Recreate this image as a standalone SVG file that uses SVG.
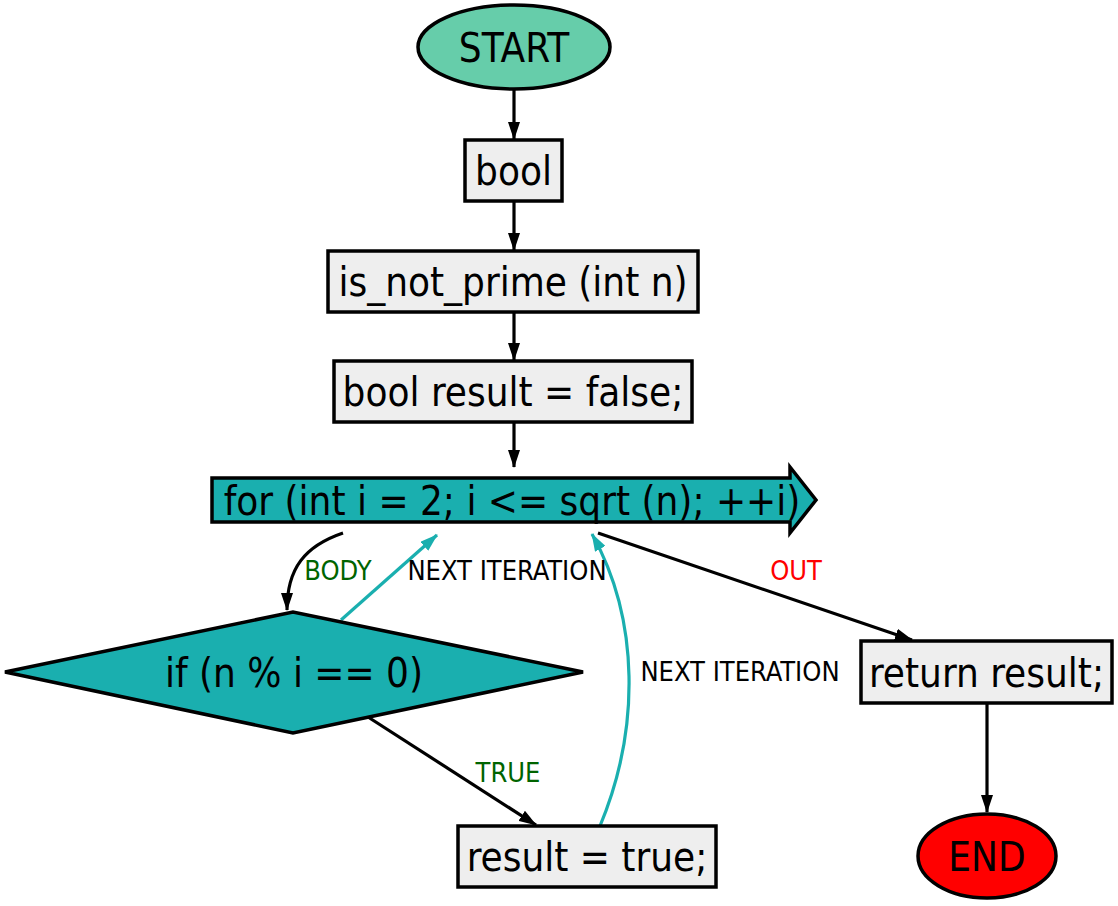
<svg xmlns="http://www.w3.org/2000/svg" width="1118" height="906" viewBox="0 0 1118 906">
  <defs>
    <style>
      .node { stroke: #000; stroke-width: 3.5; }
      .box { fill: #eeeeee; }
      .teal { fill: #1aafaf; }
      .txt { font-family: "DejaVu Sans Condensed", "DejaVu Sans", sans-serif; font-size: 40px; fill: #000; text-anchor: middle; }
      .lbl { font-family: "DejaVu Sans Condensed", "DejaVu Sans", sans-serif; font-size: 27px; text-anchor: middle; }
      .edge { fill: none; stroke: #000; stroke-width: 3.2; }
      .edge-loop { fill: none; stroke: #1aafaf; stroke-width: 3.2; }
    </style>
    <marker id="arrow" viewBox="0 0 18 12" refX="17" refY="6" markerWidth="18" markerHeight="12" markerUnits="userSpaceOnUse" orient="auto">
      <path d="M0,0 L18,6 L0,12 z" fill="#000"/>
    </marker>
    <marker id="arrow-loop" viewBox="0 0 18 12" refX="17" refY="6" markerWidth="18" markerHeight="12" markerUnits="userSpaceOnUse" orient="auto">
      <path d="M0,0 L18,6 L0,12 z" fill="#1aafaf"/>
    </marker>
  </defs>
  <rect width="1118" height="906" fill="#fff"/>

  <g id="connectors">
    <line class="edge" x1="514" y1="90" x2="514" y2="139" marker-end="url(#arrow)"/>
    <line class="edge" x1="514" y1="201" x2="514" y2="250" marker-end="url(#arrow)"/>
    <line class="edge" x1="514" y1="312" x2="514" y2="360" marker-end="url(#arrow)"/>
    <line class="edge" x1="514" y1="422" x2="514" y2="467" marker-end="url(#arrow)"/>
    <path class="edge" d="M343,533 C305,546 287,568 287,610" marker-end="url(#arrow)"/>
    <line class="edge-loop" x1="341" y1="620" x2="437" y2="535" marker-end="url(#arrow-loop)"/>
    <line class="edge" x1="368" y1="717" x2="536" y2="825" marker-end="url(#arrow)"/>
    <path class="edge-loop" d="M600,826 C640,730 640,620 592,534" marker-end="url(#arrow-loop)"/>
    <line class="edge" x1="598" y1="533" x2="912" y2="640" marker-end="url(#arrow)"/>
    <line class="edge" x1="987" y1="703" x2="987" y2="812" marker-end="url(#arrow)"/>
    <text class="lbl" x="338" y="580" fill="#006400">BODY</text>
    <text class="lbl" x="507" y="580" fill="#000">NEXT ITERATION</text>
    <text class="lbl" x="508" y="782" fill="#006400">TRUE</text>
    <text class="lbl" x="740" y="681" fill="#000">NEXT ITERATION</text>
    <text class="lbl" x="796" y="580" fill="#ff0000">OUT</text>
  </g>

  <g id="start">
    <ellipse class="node" cx="514" cy="47" rx="96" ry="42" fill="#66cdaa"/>
    <text class="txt" x="514" y="62">START</text>
  </g>
  <g id="bool">
    <rect class="node box" x="465" y="140" width="97" height="61"/>
    <text class="txt" x="513.5" y="185">bool</text>
  </g>
  <g id="signature">
    <rect class="node box" x="328" y="251" width="370" height="61"/>
    <text class="txt" x="513" y="296">is_not_prime (int n)</text>
  </g>
  <g id="init">
    <rect class="node box" x="334" y="361" width="358" height="61"/>
    <text class="txt" x="513" y="406">bool result = false;</text>
  </g>
  <g id="loop">
    <path class="node teal" d="M212,478 L790,478 L790,467 L816,500 L790,533 L790,522 L212,522 z"/>
    <text class="txt" x="512" y="515">for (int i = 2; i &lt;= sqrt (n); ++i)</text>
  </g>
  <g id="condition">
    <path class="node teal" d="M5,672 L293,612 L583,672 L293,733 z"/>
    <text class="txt" x="294" y="687">if (n % i == 0)</text>
  </g>
  <g id="assign">
    <rect class="node box" x="458" y="826" width="258" height="61"/>
    <text class="txt" x="587" y="871">result = true;</text>
  </g>
  <g id="return">
    <rect class="node box" x="861" y="641" width="251" height="62"/>
    <text class="txt" x="986.5" y="687">return result;</text>
  </g>
  <g id="end">
    <ellipse class="node" cx="987" cy="856" rx="69" ry="42" fill="#ff0000"/>
    <text class="txt" x="987" y="871">END</text>
  </g>
</svg>
